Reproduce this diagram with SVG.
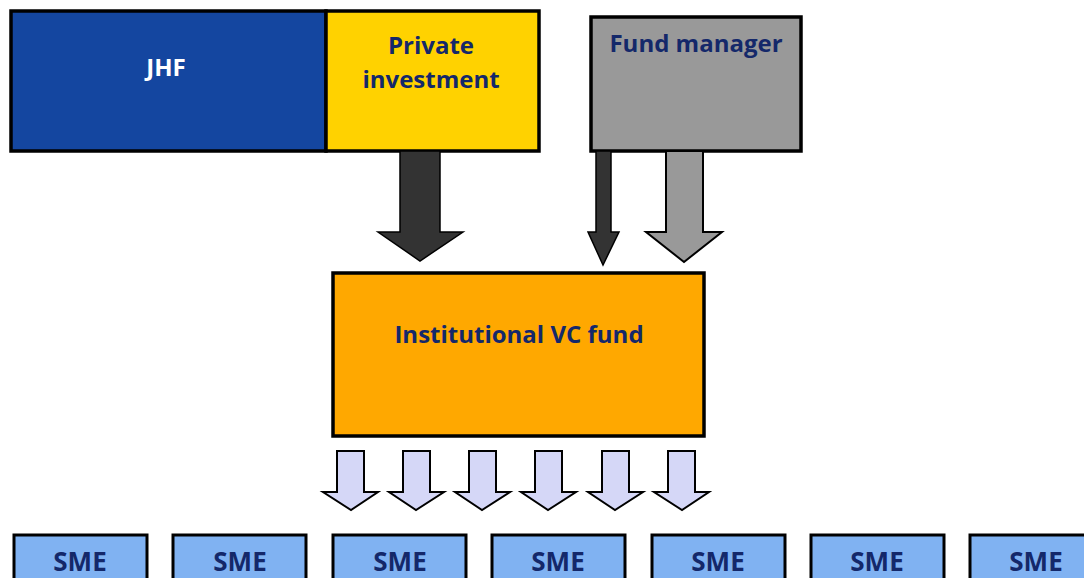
<svg xmlns="http://www.w3.org/2000/svg" width="1084" height="578" viewBox="0 0 1084 578">
<style>
text{font-family:"Open Sans","Liberation Sans",sans-serif;font-weight:bold;font-size:24px;text-anchor:middle;fill:#14286a}
.box{stroke:#000;stroke-width:3.5}
.sme rect{fill:#80b2f2;stroke:#000;stroke-width:3}
.sme text{font-size:26px}
.small{fill:#d5d7f7;stroke:#000;stroke-width:2}
</style>
<rect width="1084" height="578" fill="#fff"/>
<g id="jhf"><rect class="box" x="11" y="11" width="315" height="140" fill="#1446a0"/><text x="166" y="76" style="fill:#fff">JHF</text></g>
<g id="private"><rect class="box" x="326" y="11" width="213" height="140" fill="#ffd200"/><text x="431" y="54">Private</text><text x="431" y="88">investment</text></g>
<g id="fundmanager"><rect class="box" x="591" y="17" width="210" height="134" fill="#999"/><text x="696" y="52">Fund manager</text></g>
<g id="vcfund"><rect class="box" x="333" y="273" width="371" height="163" fill="#ffa800"/><text x="519" y="343">Institutional VC fund</text></g>
<g id="connectors">
<polygon points="400,151 440,151 440,232 463,232 420,261 378,232 400,232" fill="#333" stroke="#000" stroke-width="1.5"/>
<polygon points="596,151 611,151 611,232 619,232 603,265 588,232 596,232" fill="#333" stroke="#000" stroke-width="1.5"/>
<polygon points="666,151 703,151 703,232 722,232 684,262 646,232 666,232" fill="#999" stroke="#000" stroke-width="2"/>
<g class="small">
<polygon points="337,451 364,451 364,492 378,492 351,510 323,492 337,492"/>
<polygon points="403,451 430,451 430,492 444,492 416,510 389,492 403,492"/>
<polygon points="469,451 496,451 496,492 510,492 482,510 455,492 469,492"/>
<polygon points="535,451 562,451 562,492 576,492 548,510 521,492 535,492"/>
<polygon points="602,451 629,451 629,492 643,492 615,510 588,492 602,492"/>
<polygon points="668,451 695,451 695,492 709,492 682,510 654,492 668,492"/>
</g>
</g>
<g id="sme1" class="sme"><rect x="14" y="535" width="133" height="50"/><text x="80" y="571">SME</text></g>
<g id="sme2" class="sme"><rect x="173" y="535" width="133" height="50"/><text x="240" y="571">SME</text></g>
<g id="sme3" class="sme"><rect x="333" y="535" width="133" height="50"/><text x="400" y="571">SME</text></g>
<g id="sme4" class="sme"><rect x="492" y="535" width="133" height="50"/><text x="558" y="571">SME</text></g>
<g id="sme5" class="sme"><rect x="652" y="535" width="133" height="50"/><text x="718" y="571">SME</text></g>
<g id="sme6" class="sme"><rect x="811" y="535" width="133" height="50"/><text x="877" y="571">SME</text></g>
<g id="sme7" class="sme"><rect x="970" y="535" width="133" height="50"/><text x="1036" y="571">SME</text></g>
</svg>
